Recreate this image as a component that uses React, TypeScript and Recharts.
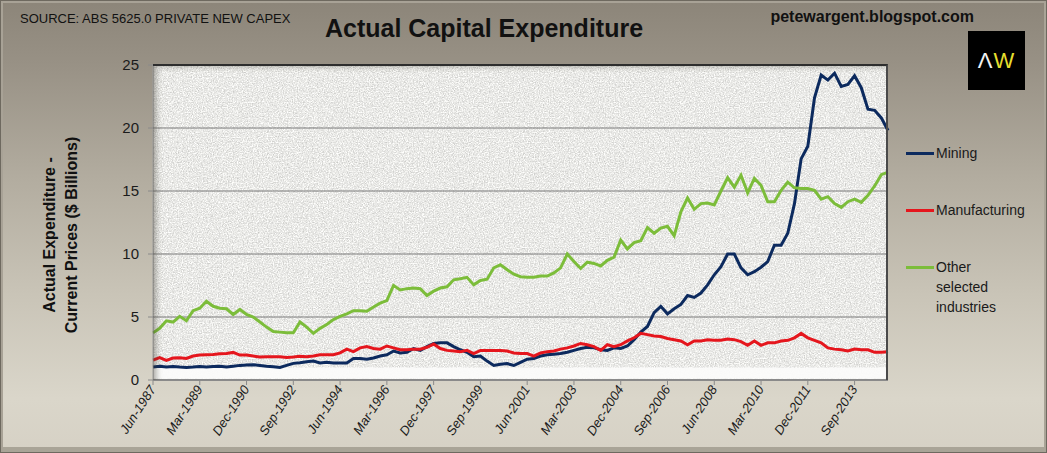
import { CartesianGrid, Line, LineChart, ReferenceArea, XAxis, YAxis } from "recharts";

const NARROW = '"Liberation Sans Narrow", "Arial Narrow", "Liberation Sans", Arial, sans-serif';
const SANS = '"Liberation Sans", Arial, sans-serif';

// quarterly, Jun-1987 .. Dec-2014 ($ billions)
const MINING = [
  1.03, 1.1, 1.03, 1.08, 1.03, 1.0, 1.03, 1.08, 1.03, 1.08, 1.1, 1.03, 1.1, 1.16, 1.19, 1.21,
  1.16, 1.1, 1.06, 1.0, 1.16, 1.32, 1.37, 1.45, 1.5, 1.35, 1.4, 1.35, 1.35, 1.35, 1.7, 1.7,
  1.65, 1.75, 1.9, 2.0, 2.3, 2.15, 2.2, 2.5, 2.35, 2.65, 2.9, 2.95, 2.95, 2.65, 2.4, 2.2,
  1.85, 1.9, 1.5, 1.15, 1.25, 1.3, 1.15, 1.4, 1.65, 1.7, 1.9, 2.0, 2.05, 2.1, 2.2, 2.35,
  2.5, 2.6, 2.55, 2.4, 2.35, 2.55, 2.5, 2.7, 3.2, 3.8, 4.25, 5.35, 5.85, 5.25, 5.65, 6.0,
  6.7, 6.55, 6.9, 7.55, 8.35, 9.0, 10.0, 10.0, 8.9, 8.35, 8.6, 8.95, 9.4, 10.7, 10.7, 11.65,
  14.0, 17.55, 18.55, 22.4, 24.2, 23.8, 24.35, 23.3, 23.45, 24.15, 23.2, 21.5, 21.4, 20.8, 19.8,
];

const MANUFACTURING = [
  1.58, 1.77, 1.55, 1.74, 1.77, 1.71, 1.9, 1.98, 2.0, 2.03, 2.08, 2.11, 2.19, 1.98, 1.98, 1.9,
  1.82, 1.85, 1.85, 1.85, 1.79, 1.82, 1.88, 1.85, 1.9, 2.0, 2.0, 2.0, 2.15, 2.45, 2.25, 2.55,
  2.65, 2.5, 2.45, 2.7, 2.55, 2.4, 2.4, 2.45, 2.45, 2.6, 2.85, 2.5, 2.35, 2.3, 2.25, 2.35,
  2.1, 2.35, 2.35, 2.35, 2.35, 2.3, 2.15, 2.1, 2.1, 1.9, 2.15, 2.25, 2.3, 2.45, 2.55, 2.7,
  2.9, 2.8, 2.65, 2.35, 2.8, 2.65, 2.8, 3.1, 3.35, 3.7, 3.6, 3.5, 3.45, 3.3, 3.2, 3.1,
  2.8, 3.1, 3.1, 3.2, 3.15, 3.15, 3.25, 3.2, 3.05, 2.75, 3.1, 2.75, 2.95, 2.95, 3.1, 3.15,
  3.35, 3.7, 3.35, 3.15, 2.95, 2.55, 2.45, 2.4, 2.3, 2.45, 2.4, 2.4, 2.2, 2.2, 2.25,
];

const OTHER = [
  3.74, 4.1, 4.7, 4.6, 5.05, 4.7, 5.5, 5.7, 6.25, 5.85, 5.7, 5.65, 5.2, 5.6, 5.2, 5.0,
  4.6, 4.2, 3.85, 3.8, 3.75, 3.75, 4.6, 4.2, 3.7, 4.1, 4.4, 4.8, 5.05, 5.25, 5.5, 5.5,
  5.45, 5.8, 6.1, 6.3, 7.5, 7.15, 7.25, 7.3, 7.25, 6.7, 7.05, 7.3, 7.4, 7.95, 8.03, 8.15,
  7.55, 7.9, 8.0, 8.9, 9.15, 8.75, 8.4, 8.2, 8.15, 8.15, 8.25, 8.25, 8.5, 8.9, 10.0, 9.4,
  8.85, 9.35, 9.25, 9.05, 9.5, 9.75, 11.1, 10.4, 10.9, 11.05, 12.1, 11.65, 12.05, 12.2, 11.45, 13.35,
  14.45, 13.55, 14.0, 14.05, 13.9, 15.0, 16.05, 15.3, 16.25, 14.85, 16.0, 15.45, 14.15, 14.15, 15.05, 15.7,
  15.25, 15.2, 15.2, 15.05, 14.35, 14.55, 14.0, 13.7, 14.15, 14.35, 14.1, 14.65, 15.4, 16.3, 16.5,
];

const MONTHS = ["Mar", "Jun", "Sep", "Dec"];
const START_YEAR = 1987;
const START_QUARTER = 1; // Jun
const Y_TICKS = [0, 5, 10, 15, 20, 25];

const SERIES = [
  { key: "mining", name: "Mining", color: "#0c2a5e" },
  { key: "manufacturing", name: "Manufacturing", color: "#e5161d" },
  { key: "other", name: "Other selected industries", color: "#7cbd3a" },
];

const data = MINING.map((v, i) => {
  const q = START_QUARTER + i;
  return {
    quarter: `${MONTHS[q % 4]}-${START_YEAR + Math.floor(q / 4)}`,
    mining: v,
    manufacturing: MANUFACTURING[i],
    other: OTHER[i],
  };
});

function XTick({ x, y, payload }: any) {
  return (
    <g transform={`translate(${x},${y})`}>
      <text
        x={0}
        y={0}
        dy={4}
        textAnchor="end"
        transform="rotate(-57)"
        fontSize={13}
        fontStyle="italic"
        fontFamily={NARROW}
        fill="#1b1b1b"
      >
        {payload.value}
      </text>
    </g>
  );
}

function LegendItem({ color, lines }: { color: string; lines: string[] }) {
  return (
    <div style={{ display: "flex", alignItems: "flex-start" }}>
      <div style={{ width: 28, height: 3, background: color, marginTop: 9, marginRight: 2 }} />
      <div style={{ fontSize: 14, lineHeight: "20px", color: "#1a1a1a" }}>
        {lines.map((l) => (
          <div key={l}>{l}</div>
        ))}
      </div>
    </div>
  );
}

export default function App() {
  return (
    <div
      style={{
        position: "absolute",
        left: 0,
        top: 0,
        width: 1047,
        height: 453,
        overflow: "hidden",
        fontFamily: SANS,
        background:
          "linear-gradient(180deg, #8c8579 0%, #989185 14%, #b3ada0 40%, #c9c4b7 65%, #dad6ca 88%, #d6d1c5 100%)",
        boxShadow: "inset 0 0 0 1px #6e695f, inset 3px 3px 0 #a8a296, inset -3px -6px 0 #a9a497",
      }}
    >
      <div style={{ position: "absolute", left: 20, top: 11, fontSize: 13, fontFamily: NARROW, color: "#111" }}>
        SOURCE: ABS 5625.0 PRIVATE NEW CAPEX
      </div>
      <div
        style={{
          position: "absolute",
          left: 484,
          top: 14,
          transform: "translateX(-50%)",
          fontSize: 25,
          fontWeight: "bold",
          fontFamily: NARROW,
          color: "#111",
          whiteSpace: "nowrap",
        }}
      >
        Actual Capital Expenditure
      </div>
      <div
        style={{
          position: "absolute",
          right: 73,
          top: 8,
          fontSize: 16,
          fontWeight: "bold",
          fontFamily: NARROW,
          color: "#111",
        }}
      >
        petewargent.blogspot.com
      </div>
      <div
        style={{
          position: "absolute",
          left: 968,
          top: 31,
          width: 57,
          height: 59,
          background: "#000",
          display: "flex",
          alignItems: "center",
          justifyContent: "center",
          fontSize: 22,
          letterSpacing: 1,
        }}
      >
        <span style={{ color: "#f2f2f2", fontWeight: 300 }}>Λ</span>
        <span style={{ color: "#e6de2e", fontWeight: 300 }}>W</span>
      </div>

      <div
        style={{
          position: "absolute",
          left: 61,
          top: 235,
          transform: "translate(-50%, -50%) rotate(-90deg)",
          textAlign: "center",
          fontSize: 16,
          lineHeight: "22px",
          fontWeight: "bold",
          fontFamily: NARROW,
          color: "#111",
          whiteSpace: "nowrap",
        }}
      >
        <div>Actual Expenditure -</div>
        <div>Current Prices ($ Billions)</div>
      </div>

      <LineChart
        width={1047}
        height={453}
        data={data}
        margin={{ top: 65, right: 159, bottom: 0, left: 123 }}
        style={{ position: "absolute", left: 0, top: 0 }}
      >
        <defs>
          <filter id="graniteNoise" x="0" y="0" width="100%" height="100%" colorInterpolationFilters="sRGB">
            <feTurbulence type="fractalNoise" baseFrequency="0.8" numOctaves="3" seed="5" stitchTiles="stitch" />
            <feColorMatrix
              type="matrix"
              values="0.35 0 0 0 0.74  0.35 0 0 0 0.74  0.35 0 0 0 0.73  0 0 0 0 1"
            />
          </filter>
          <pattern id="granite" patternUnits="userSpaceOnUse" width="256" height="256">
            <rect width="256" height="256" fill="#fff" filter="url(#graniteNoise)" />
          </pattern>
        </defs>
        <CartesianGrid fill="url(#granite)" fillOpacity={1} stroke="#7b7b7b" vertical={false} />
        <ReferenceArea y1={0.1} y2={1.0} fill="#fbfbfa" fillOpacity={0.95} stroke="none" ifOverflow="hidden" />
        <XAxis
          dataKey="quarter"
          interval={6}
          height={73}
          tickSize={5}
          tickMargin={2}
          tick={<XTick />}
          axisLine={{ stroke: "#8a8a8a", strokeWidth: 2 }}
          tickLine={{ stroke: "#8a8a8a" }}
        />
        <YAxis
          domain={[0, 25]}
          ticks={Y_TICKS}
          width={30}
          tickSize={5}
          tickMargin={9}
          axisLine={{ stroke: "#9a9a9a" }}
          tickLine={{ stroke: "#8a8a8a" }}
          tick={{ fontSize: 15, fill: "#1b1b1b", fontFamily: NARROW }}
        />
        {SERIES.map((s) => (
          <Line
            key={s.key}
            type="linear"
            dataKey={s.key}
            name={s.name}
            stroke={s.color}
            strokeWidth={3}
            dot={false}
            isAnimationActive={false}
          />
        ))}
      </LineChart>

      <div
        style={{
          position: "absolute",
          left: 153,
          top: 64,
          width: 735,
          height: 316,
          boxSizing: "border-box",
          borderTop: "2px solid #2e2e2e",
          borderRight: "2px solid #4a4a4a",
          boxShadow: "inset 7px 4px 6px -4px rgba(60,55,45,0.45)",
          pointerEvents: "none",
        }}
      />

      <div style={{ position: "absolute", left: 906, top: 143, display: "flex", flexDirection: "column", gap: 37 }}>
        <LegendItem color={SERIES[0].color} lines={["Mining"]} />
        <LegendItem color={SERIES[1].color} lines={["Manufacturing"]} />
        <LegendItem color={SERIES[2].color} lines={["Other", "selected", "industries"]} />
      </div>
    </div>
  );
}
